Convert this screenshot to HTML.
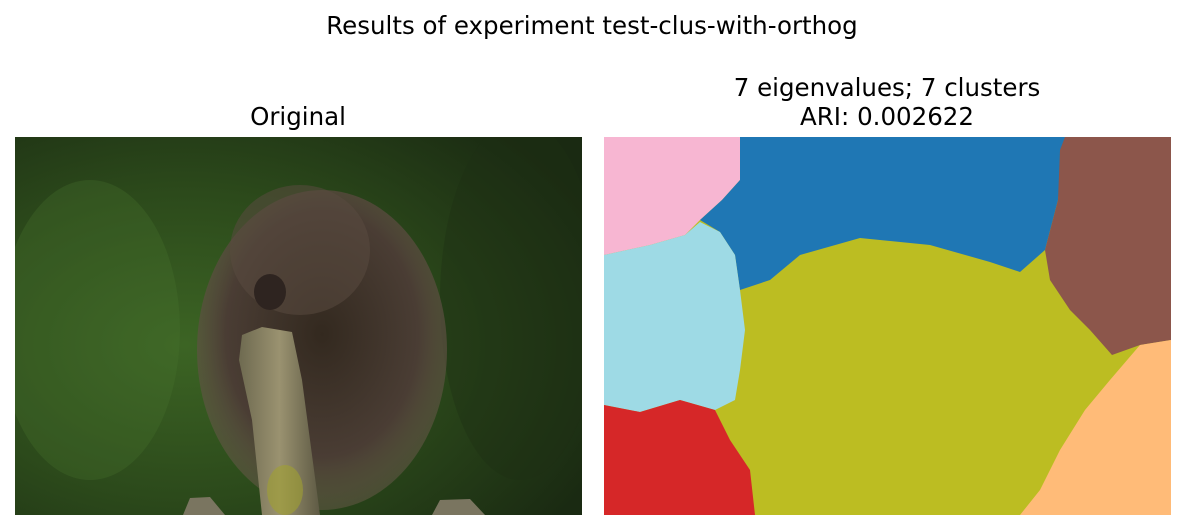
<!DOCTYPE html>
<html><head><meta charset="utf-8"><style>
html,body{margin:0;padding:0;background:#fff;}
svg{display:block;font-family:"DejaVu Sans","Liberation Sans",sans-serif;}
</style></head><body>
<svg width="1185" height="530" viewBox="0 0 1185 530">
<defs>
<radialGradient id="bg" cx="0.3" cy="0.55" r="0.8">
<stop offset="0" stop-color="#3c6424"/><stop offset="0.5" stop-color="#2c4a1b"/><stop offset="1" stop-color="#1a2a12"/>
</radialGradient>
<radialGradient id="fur" cx="0.5" cy="0.45" r="0.55">
<stop offset="0" stop-color="#33291f"/><stop offset="0.7" stop-color="#4a3d34"/><stop offset="1" stop-color="#6b5a4c" stop-opacity="0.5"/>
</radialGradient>
<linearGradient id="stick" x1="0" x2="1">
<stop offset="0" stop-color="#6e6a50"/><stop offset="0.5" stop-color="#9a9270"/><stop offset="1" stop-color="#5e5a44"/>
</linearGradient>
<clipPath id="lc"><rect x="15" y="137" width="567" height="378"/></clipPath>
<clipPath id="rc"><rect x="604" y="137" width="567" height="378"/></clipPath>
</defs>
<text x="592" y="34" font-size="24.5" text-anchor="middle" fill="#000">Results of experiment test-clus-with-orthog</text>
<text x="298" y="125" font-size="24.5" text-anchor="middle">Original</text>
<text x="887" y="96" font-size="24.5" text-anchor="middle">7 eigenvalues; 7 clusters</text>
<text x="887" y="125" font-size="24.5" text-anchor="middle">ARI: 0.002622</text>

<g clip-path="url(#lc)">
<rect x="15" y="137" width="567" height="378" fill="url(#bg)"/>
<ellipse cx="90" cy="330" rx="90" ry="150" fill="#4a7530" opacity="0.3"/>
<ellipse cx="520" cy="300" rx="80" ry="180" fill="#1e3014" opacity="0.4"/>
<ellipse cx="322" cy="350" rx="125" ry="160" fill="url(#fur)"/>
<ellipse cx="300" cy="250" rx="70" ry="65" fill="#5a4a40" opacity="0.55"/>
<ellipse cx="270" cy="292" rx="16" ry="18" fill="#2e2420"/>
<polygon points="242,335 262,327 292,332 302,380 320,515 262,515 252,420 239,360" fill="url(#stick)"/>
<ellipse cx="285" cy="490" rx="18" ry="25" fill="#a0a030" opacity="0.6"/>
<polygon points="183,515 190,498 210,497 225,515" fill="#7a7560"/>
<polygon points="432,515 440,500 470,499 485,515" fill="#7a7560"/>
</g>

<g clip-path="url(#rc)">
<rect x="604" y="137" width="567" height="378" fill="#bcbd22"/>
<polygon points="604,137 740,137 740,180 722,200 700,220 685,235 650,245 604,255" fill="#f7b6d2"/>
<polygon points="740,137 1065,137 1058,200 1045,250 1020,272 990,262 930,245 860,238 800,255 770,280 740,290 735,255 720,232 700,220 722,200 740,180" fill="#1f77b4"/>
<polygon points="1065,137 1171,137 1171,340 1140,345 1112,355 1090,330 1070,310 1050,280 1045,250 1058,200 1060,150" fill="#8c564b"/>
<polygon points="604,255 650,245 685,235 700,222 720,232 735,255 740,290 745,330 740,370 735,400 715,410 680,400 640,412 604,405" fill="#9edae5"/>
<polygon points="604,405 640,412 680,400 715,410 730,440 750,470 755,515 604,515" fill="#d62728"/>
<polygon points="1171,340 1171,515 1020,515 1040,490 1060,450 1085,410 1110,380 1140,345" fill="#ffbb78"/>
</g>
</svg>
</body></html>
